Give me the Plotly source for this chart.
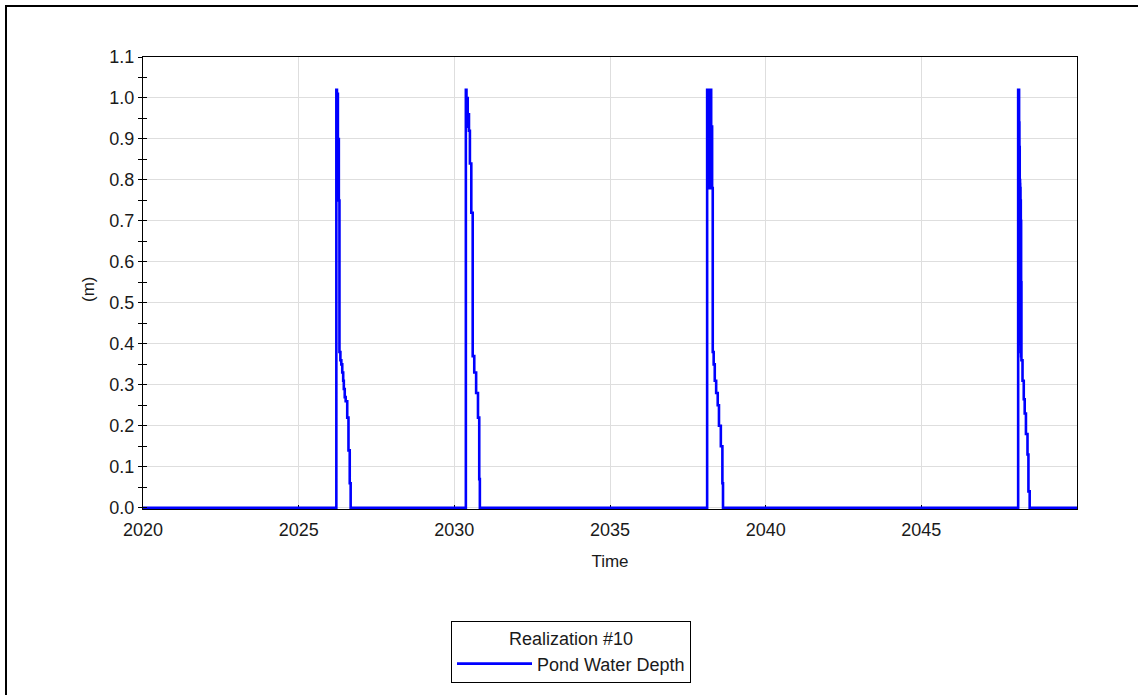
import plotly.graph_objects as go

# Time (years) and pond water depth (m), step-wise series
years = [2020.0,
         2026.21, 2026.23, 2026.24, 2026.26, 2026.27, 2026.29, 2026.31, 2026.34, 2026.37, 2026.40,
         2026.43, 2026.45, 2026.48, 2026.51, 2026.56, 2026.60, 2026.64, 2026.67,
         2030.37, 2030.39, 2030.41, 2030.43, 2030.45, 2030.47, 2030.50, 2030.545, 2030.59, 2030.64,
         2030.70, 2030.76, 2030.80, 2030.82,
         2038.12, 2038.13, 2038.14, 2038.15, 2038.16, 2038.17, 2038.18, 2038.19, 2038.20, 2038.21,
         2038.22, 2038.23, 2038.24, 2038.25, 2038.28, 2038.30, 2038.33, 2038.365, 2038.41, 2038.46,
         2038.50, 2038.56, 2038.61, 2038.63,
         2048.11, 2048.14, 2048.15, 2048.16, 2048.17, 2048.175, 2048.18, 2048.185, 2048.19, 2048.195,
         2048.20, 2048.205, 2048.21, 2048.215, 2048.25, 2048.29, 2048.32, 2048.36, 2048.41, 2048.44,
         2048.48,
         2050.0]
depth = [0.0,
         1.02, 0.91, 1.01, 0.76, 0.90, 0.75, 0.38, 0.36, 0.35, 0.33,
         0.31, 0.29, 0.27, 0.26, 0.22, 0.14, 0.06, 0.0,
         1.02, 0.97, 1.00, 0.93, 0.96, 0.92, 0.84, 0.72, 0.37, 0.33,
         0.28, 0.22, 0.07, 0.0,
         1.02, 0.78, 1.02, 0.80, 1.02, 0.78, 1.01, 0.79, 1.02, 0.78,
         1.00, 0.79, 1.02, 0.93, 0.78, 0.38, 0.35, 0.31, 0.28, 0.25,
         0.20, 0.15, 0.06, 0.0,
         1.02, 0.94, 0.88, 0.80, 0.79, 0.45, 0.78, 0.40, 0.75, 0.38,
         0.70, 0.37, 0.55, 0.36, 0.31, 0.265, 0.23, 0.18, 0.13, 0.04,
         0.0,
         0.0]

x_ticks = [2020, 2025, 2030, 2035, 2040, 2045]
x_tick_labels = ["2020", "2025", "2030", "2035", "2040", "2045"]
y_ticks = [0.0, 0.1, 0.2, 0.3, 0.4, 0.5, 0.6, 0.7, 0.8, 0.9, 1.0, 1.1]
y_tick_labels = ["0.0", "0.1", "0.2", "0.3", "0.4", "0.5", "0.6", "0.7", "0.8", "0.9", "1.0", "1.1"]

series_name = "Pond Water Depth"
legend_title = "Realization #10"
x_title = "Time"
y_title = "(m)"

FONT = "Liberation Sans, Arial, sans-serif"
TXT = "#1a1a1a"
GRID = "#dedede"

fig = go.Figure()
fig.add_trace(go.Scatter(x=years, y=depth, mode="lines", line_shape="hv",
                         line=dict(color="#0000ff", width=2.6),
                         name=series_name))
# invisible helper trace so the overlay axis (inner half of the crossing ticks) is drawn
fig.add_trace(go.Scatter(x=[years[0]], y=[depth[0]], yaxis="y2", mode="lines",
                         line=dict(color="rgba(0,0,0,0)"), showlegend=False, hoverinfo="skip"))

yr = [-0.003, 1.1]
fig.update_layout(
    width=1138, height=695,
    margin=dict(l=143, r=61, t=57, b=186, autoexpand=False),
    paper_bgcolor="white", plot_bgcolor="white",
    font=dict(family=FONT, color=TXT, size=16),
    showlegend=True,
    xaxis=dict(range=[2020, 2050], tickvals=x_ticks, ticktext=x_tick_labels,
               showgrid=True, gridcolor=GRID, gridwidth=1, zeroline=False,
               showline=True, linecolor="black", linewidth=1, mirror=True,
               ticks="inside", ticklen=4, tickcolor="black",
               ticklabelstandoff=4,
               tickfont=dict(size=18, family=FONT, color=TXT),
               title=dict(text=x_title, font=dict(size=17, family=FONT, color=TXT), standoff=16),
               layer="below traces"),
    yaxis=dict(range=yr, tickvals=y_ticks, ticktext=y_tick_labels,
               showgrid=True, gridcolor=GRID, gridwidth=1, zeroline=False,
               showline=True, linecolor="black", linewidth=1, mirror=True,
               ticks="outside", ticklen=4, tickcolor="black",
               minor=dict(dtick=0.05, tick0=0, ticks="outside", ticklen=4, tickcolor="black", showgrid=False),
               tickfont=dict(size=18, family=FONT, color=TXT),
               layer="below traces"),
    yaxis2=dict(range=yr, overlaying="y", side="left", showgrid=False, zeroline=False,
                tickvals=y_ticks, showticklabels=False,
                ticks="inside", ticklen=4, tickcolor="black",
                minor=dict(dtick=0.05, tick0=0, ticks="inside", ticklen=4, tickcolor="black", showgrid=False),
                showline=False),
    legend=dict(xref="container", yref="container", x=451 / 1138, y=1 - 621 / 695,
                xanchor="left", yanchor="top",
                bordercolor="black", borderwidth=1, bgcolor="white",
                title=dict(text=legend_title, side="top center", font=dict(size=18, family=FONT, color=TXT)),
                font=dict(size=18, family=FONT, color=TXT),
                itemwidth=75, tracegroupgap=0),
)

# y-axis title
fig.add_annotation(text=y_title, xref="paper", yref="paper",
                   x=(88 - 143) / 934, y=(509 - 290) / 452, xanchor="center", yanchor="middle",
                   textangle=-90, showarrow=False, font=dict(size=17, family=FONT, color=TXT))

# outer frame of the image
fig.add_shape(type="rect", xref="paper", yref="paper",
              x0=(6 - 143) / 934, x1=(1150 - 143) / 934,
              y0=(509 - 710) / 452, y1=(509 - 6) / 452,
              line=dict(color="black", width=2), fillcolor="rgba(0,0,0,0)", layer="above")

fig.write_html("out.html")
